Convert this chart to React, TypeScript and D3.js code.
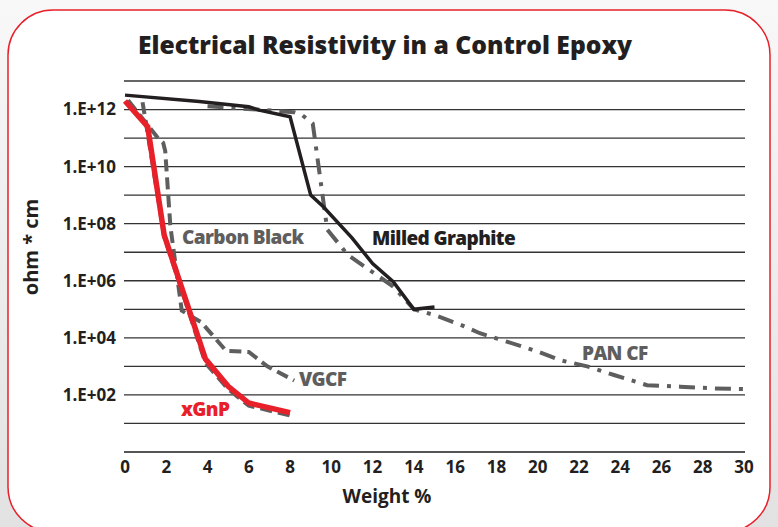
import * as d3 from "d3";
import { useEffect, useRef } from "react";

// weight % on x, resistivity (ohm * cm) on y
const xgnpWeight = [0, 1.1, 1.9, 3.9, 5, 6, 8];
const xgnpOhm = [2e12, 2.5e11, 4e7, 1.8e3, 200, 52, 24];

const carbonWeight = [0.85, 1.0, 1.9, 3.9, 5, 6, 8];
const carbonOhm = [1.8e12, 4e11, 3.5e7, 1.3e3, 160, 42, 19];

const vgcfWeight = [0.15, 1.6, 1.85, 1.95, 2.2, 2.75, 3.3, 3.7, 4.9, 6, 6.9, 8.2];
const vgcfOhm = [2.1e12, 1e11, 6.8e10, 3.5e10, 8e7, 9e4, 5.2e4, 3.5e4, 3.5e3, 3.2e3, 1e3, 320];

const graphiteWeight = [0, 3.6, 6, 6.5, 8, 9, 9.6, 11, 12, 13, 14, 15];
const graphiteOhm = [3.2e12, 1.9e12, 1.25e12, 9.5e11, 5.6e11, 1e9, 4e8, 3.2e7, 4e6, 9.3e5, 1e5, 1.2e5];

const panWeight = [4, 6.4, 8.2, 8.6, 9.1, 9.8, 10.8, 12, 13, 14, 15, 16.3, 17.2, 18.5, 20, 21.1, 22.4, 23.7, 25.3, 26.9, 28.5, 30];
const panOhm = [1.3e12, 1e12, 8e11, 6.3e11, 3.2e11, 6.3e7, 8e6, 2e6, 6.3e5, 1e5, 6.3e4, 2.8e4, 1.45e4, 7.4e3, 3.3e3, 1.65e3, 1e3, 500, 220, 195, 170, 160];

const xTicks = d3.range(0, 31, 2);
const yTickValues = [1e2, 1e4, 1e6, 1e8, 1e10, 1e12];
const yTickLabels = ["1.E+02", "1.E+04", "1.E+06", "1.E+08", "1.E+10", "1.E+12"];

const FONT = "'Open Sans', sans-serif";
const GRAY = "#5e5e5e";
const RED = "#e8202a";

const App = () => {
  const ref = useRef(null);

  useEffect(() => {
    const width = 778,
      height = 527;
    const svg = d3.select(ref.current);
    svg.selectAll("*").remove();

    // page background + rounded red frame
    const defs = svg.append("defs");
    const grad = defs
      .append("linearGradient")
      .attr("id", "bg")
      .attr("x1", 0)
      .attr("y1", 0)
      .attr("x2", 0)
      .attr("y2", 1);
    grad.append("stop").attr("offset", "0%").attr("stop-color", "#f8f8f8");
    grad.append("stop").attr("offset", "100%").attr("stop-color", "#e2e2e2");
    svg.append("rect").attr("width", width).attr("height", height).attr("fill", "url(#bg)");
    svg
      .append("rect")
      .attr("x", 8)
      .attr("y", 10)
      .attr("width", 762)
      .attr("height", 522)
      .attr("rx", 45)
      .attr("fill", "#fff")
      .attr("stroke", RED)
      .attr("stroke-width", 1.5);

    const x = d3.scaleLinear().domain([0, 30]).range([125, 744]);
    const y = d3.scaleLog().domain([1, 1e13]).range([452, 81]);

    // gridlines, one per decade
    const decades = d3.range(1, 14).map((e) => Math.pow(10, e));
    svg
      .append("g")
      .selectAll("line")
      .data(decades)
      .join("line")
      .attr("x1", 124)
      .attr("x2", 745)
      .attr("y1", (d) => y(d))
      .attr("y2", (d) => y(d))
      .attr("stroke", "#333")
      .attr("stroke-width", 1.3);
    svg
      .append("line")
      .attr("x1", 124)
      .attr("x2", 745)
      .attr("y1", y(1))
      .attr("y2", y(1))
      .attr("stroke", "#555")
      .attr("stroke-width", 2);

    // tick labels
    svg
      .append("g")
      .selectAll("text")
      .data(yTickValues)
      .join("text")
      .attr("x", 116)
      .attr("y", (d) => y(d))
      .attr("dy", "0.35em")
      .attr("text-anchor", "end")
      .attr("font-family", FONT)
      .attr("font-weight", 700)
      .attr("font-size", 17)
      .attr("fill", "#231f20")
      .text((d, i) => yTickLabels[i]);
    svg
      .append("g")
      .selectAll("text")
      .data(xTicks)
      .join("text")
      .attr("x", (d) => x(d))
      .attr("y", 473)
      .attr("text-anchor", "middle")
      .attr("font-family", FONT)
      .attr("font-weight", 700)
      .attr("font-size", 17)
      .attr("fill", "#231f20")
      .text((d) => d);

    // titles
    svg
      .append("text")
      .attr("x", 385)
      .attr("y", 54)
      .attr("text-anchor", "middle")
      .attr("font-family", FONT)
      .attr("font-weight", 800)
      .attr("font-size", 25)
      .attr("textLength", 494)
      .attr("lengthAdjust", "spacingAndGlyphs")
      .attr("fill", "#231f20")
      .text("Electrical Resistivity in a Control Epoxy");
    svg
      .append("text")
      .attr("x", 387)
      .attr("y", 503)
      .attr("text-anchor", "middle")
      .attr("font-family", FONT)
      .attr("font-weight", 700)
      .attr("font-size", 19)
      .attr("fill", "#231f20")
      .text("Weight %");
    svg
      .append("text")
      .attr("transform", "translate(38,247) rotate(-90)")
      .attr("text-anchor", "middle")
      .attr("font-family", FONT)
      .attr("font-weight", 700)
      .attr("font-size", 20)
      .attr("fill", "#231f20")
      .text("ohm * cm");

    const line = d3
      .line()
      .x((d) => x(d[0]))
      .y((d) => y(d[1]));
    const zip = (w, v) => w.map((d, i) => [d, v[i]]);

    const series = [
      { pts: zip(panWeight, panOhm), color: GRAY, w: 4, dash: "16,8,4,8" },
      { pts: zip(graphiteWeight, graphiteOhm), color: "#231f20", w: 3.5, dash: null },
      { pts: zip(vgcfWeight, vgcfOhm), color: GRAY, w: 4, dash: "12,6" },
      { pts: zip(carbonWeight, carbonOhm), color: GRAY, w: 4, dash: "12,6" },
      { pts: zip(xgnpWeight, xgnpOhm), color: RED, w: 5.5, dash: null },
    ];
    svg
      .append("g")
      .selectAll("path")
      .data(series)
      .join("path")
      .attr("d", (d) => line(d.pts))
      .attr("fill", "none")
      .attr("stroke", (d) => d.color)
      .attr("stroke-width", (d) => d.w)
      .attr("stroke-dasharray", (d) => d.dash)
      .attr("stroke-linejoin", "miter");

    // series labels
    const labels = [
      { t: "Carbon Black", x: 182, y: 244, c: GRAY },
      { t: "Milled Graphite", x: 372, y: 245, c: "#231f20" },
      { t: "PAN CF", x: 582, y: 360, c: GRAY },
      { t: "VGCF", x: 299, y: 386, c: GRAY },
      { t: "xGnP", x: 181, y: 416, c: RED },
    ];
    svg
      .append("g")
      .selectAll("text")
      .data(labels)
      .join("text")
      .attr("x", (d) => d.x)
      .attr("y", (d) => d.y)
      .attr("font-family", FONT)
      .attr("font-weight", 800)
      .attr("font-size", 19)
      .attr("letter-spacing", -0.6)
      .attr("fill", (d) => d.c)
      .text((d) => d.t);
  }, []);

  return (
    <svg
      ref={ref}
      width={778}
      height={527}
      style={{ position: "absolute", left: 0, top: 0 }}
    />
  );
};

export default App;
